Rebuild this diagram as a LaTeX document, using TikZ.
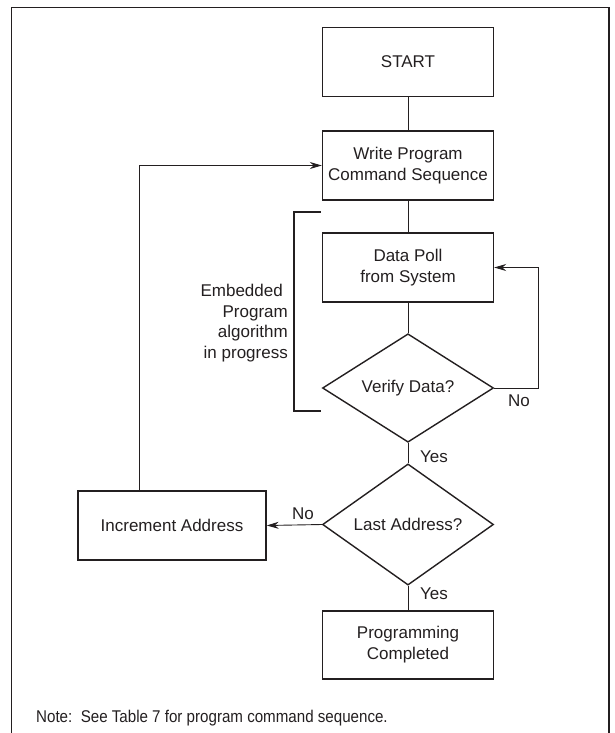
\documentclass[tikz,border=0pt]{standalone}
\usepackage{fontspec}
\setmainfont{Liberation Sans}
\newfontfamily\notefont{Liberation Sans}[FakeStretch=0.89]
\usetikzlibrary{shapes.geometric,arrows.meta}
\definecolor{ink}{HTML}{231F20}
\begin{document}
\begin{tikzpicture}[x=1pt,y=-1pt,
  txt/.style={font=\fontsize{17}{21}\selectfont, text=ink},
  box/.style={txt, draw=ink, line width=1.4pt, minimum width=171pt,
    minimum height=69pt, inner sep=0pt, align=center},
  decision/.style={txt, diamond, draw=ink, line width=1.4pt,
    minimum width=171pt, minimum height=102pt, inner sep=0pt},
  link/.style={draw=ink, line width=0.9pt},
  arrow/.style={link, -{Stealth[length=12pt,width=7pt]}},
  tag/.style={txt, inner sep=0pt}]

\useasboundingbox (0,0) rectangle (614,733);

% outer frame (open at the bottom edge of the page)
\draw[ink, line width=1.5pt] (11.5,745) -- (11.5,7.5) -- (609,7.5) -- (609,745);

% flow steps
\node[box] (start) at (408,62) {START};
\node[box] (write) at (408,165.5) {Write Program\\Command Sequence};
\node[box] (poll)  at (408,267.5) {Data Poll\\from System};
\node[decision] (verify) at (408,388) {Verify Data?};
\node[decision] (last)   at (408,524.5) {Last Address?};
\node[box, minimum width=188pt] (inc) at (172,525.5) {Increment Address};
\node[box, minimum height=68pt] (done) at (408,645) {Programming\\Completed};

% straight connectors
\draw[link] (start) -- (write);
\draw[link] (write) -- (poll);
\draw[link] (poll) -- (verify);
\draw[link] (verify) -- (last);
\draw[link] (last) -- (done);

% retry loop while data is not verified
\coordinate (retry) at (538,388);
\draw[arrow] (verify.east) -- (retry) |- (poll.east);

% no: step to the next address
\draw[arrow] (last.west) -- (inc.east);

% back to the command sequence
\coordinate (back) at (139,165.5);
\draw[arrow] (inc.north -| back) -- (back) -- (write.west);

% bracket around the embedded algorithm
\draw[ink, line width=1.8pt] (320.5,212) -- (294,212) -- (294,411) -- (320.5,411);
\node[txt, align=right, anchor=north east, inner sep=0pt,
      font=\fontsize{17}{20.7}\selectfont] (embedded) at (288,284)
  {Embedded\hspace*{5pt}\\Program\\algorithm\\in progress};

% branch labels
\node[tag, anchor=base west] (yes1) at (420,462) {Yes};
\node[tag, anchor=base west] (no1)  at (508,406) {No};
\node[tag, anchor=base west] (no2)  at (292,519) {No};
\node[tag, anchor=base west] (yes2) at (420,599) {Yes};

% footnote
\node[inner sep=0pt, anchor=base west, text=ink,
      font=\notefont\fontsize{17}{21}\selectfont] (note) at (36,722)
  {Note:\ \ See Table 7 for program command sequence.};
\end{tikzpicture}
\end{document}
